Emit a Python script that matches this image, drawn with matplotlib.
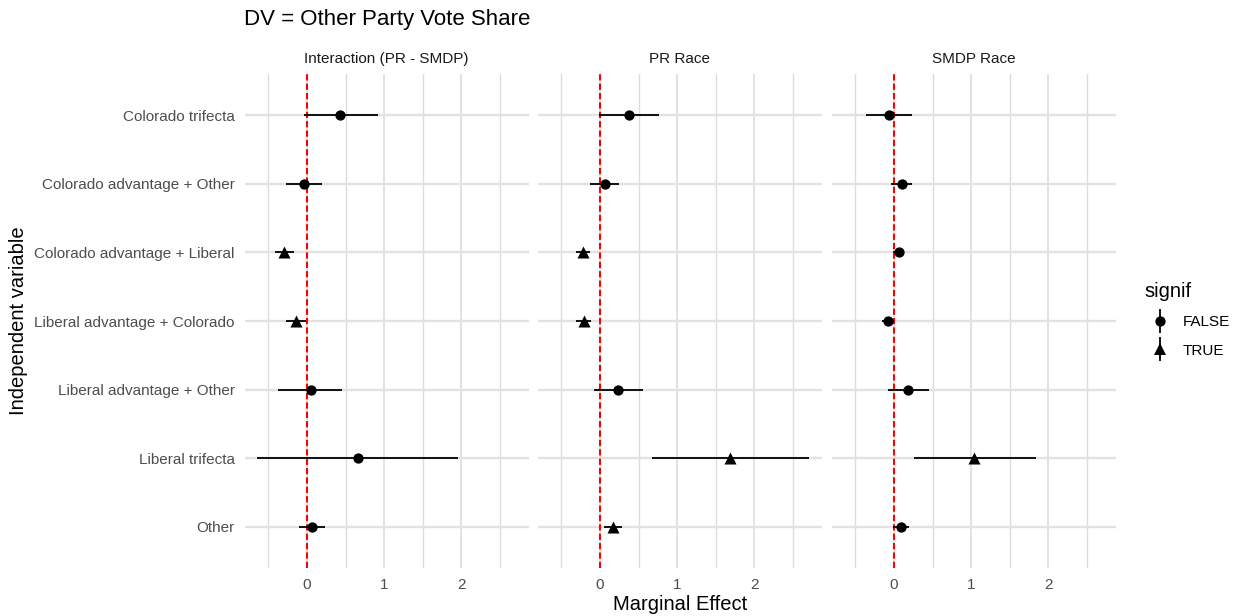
import numpy as np
import matplotlib
matplotlib.use("Agg")
import matplotlib.pyplot as plt
from matplotlib.lines import Line2D
from matplotlib.legend_handler import HandlerTuple

plt.rcParams['font.family'] = ['Liberation Sans', 'DejaVu Sans']

categories = ["Colorado trifecta", "Colorado advantage + Other",
              "Colorado advantage + Liberal", "Liberal advantage + Colorado",
              "Liberal advantage + Other", "Liberal trifecta", "Other"]
panel_titles = ["Interaction (PR - SMDP)", "PR Race", "SMDP Race"]

# interaction term
est_inter = [0.43, -0.04, -0.29, -0.14, 0.05, 0.66, 0.07]
lo_inter = [-0.04, -0.27, -0.41, -0.27, -0.37, -0.64, -0.10]
hi_inter = [0.92, 0.19, -0.17, -0.005, 0.46, 1.95, 0.24]
sig_inter = [False, False, True, True, False, False, False]

# PR race
est_pr = [0.38, 0.06, -0.22, -0.21, 0.24, 1.68, 0.17]
lo_pr = [-0.005, -0.13, -0.31, -0.31, -0.08, 0.68, 0.05]
hi_pr = [0.76, 0.25, -0.13, -0.11, 0.56, 2.70, 0.29]
sig_pr = [False, False, True, True, False, True, True]

# SMDP race
est_smdp = [-0.06, 0.10, 0.065, -0.08, 0.18, 1.03, 0.09]
lo_smdp = [-0.36, -0.04, -0.005, -0.16, -0.07, 0.26, -0.01]
hi_smdp = [0.24, 0.23, 0.125, 0.005, 0.45, 1.84, 0.19]
sig_smdp = [False, False, False, False, False, True, False]

panels = [(est_inter, lo_inter, hi_inter, sig_inter),
          (est_pr, lo_pr, hi_pr, sig_pr),
          (est_smdp, lo_smdp, hi_smdp, sig_smdp)]

W, H = 1240, 616
fig = plt.figure(figsize=(W / 100, H / 100), dpi=100)

# shared x range with 5% padding
all_lo = min(min(p[1]) for p in panels)
all_hi = max(max(p[2]) for p in panels)
pad = 0.05 * (all_hi - all_lo)
xlim = (all_lo - pad, all_hi + pad)

lefts = [244.5, 537.5, 831.5]
pw = 284
top, bottom = 74, 568
ypos = np.arange(len(categories))

axes = []
for i, (est, lo, hi, sig) in enumerate(panels):
    ax = fig.add_axes([lefts[i] / W, 1 - bottom / H, pw / W, (bottom - top) / H])
    axes.append(ax)
    ax.set_xlim(*xlim)
    ax.set_ylim(len(categories) - 0.4, -0.6)
    ax.set_xticks([0, 1, 2])
    ax.set_xticks([-0.5, 0.5, 1.5, 2.5], minor=True)
    ax.set_yticks(ypos)
    ax.grid(axis='x', which='major', color='#dadada', lw=1.1, zorder=0)
    ax.grid(axis='x', which='minor', color='#dcdcdc', lw=1.0, zorder=0)
    ax.grid(axis='y', which='major', color='#e2e2e2', lw=1.7, zorder=0)
    ax.set_axisbelow(True)
    for s in ax.spines.values():
        s.set_visible(False)
    ax.tick_params(which='both', length=0, labelsize=11, labelcolor='#4d4d4d')
    ax.tick_params(axis='x', pad=7)
    ax.tick_params(axis='y', pad=7)
    if i == 0:
        ax.set_yticklabels(categories)
    else:
        ax.set_yticklabels([])

    ax.axvline(0, color='red', lw=1.5, ls=(0, (3, 1.5)), zorder=2)
    ax.hlines(ypos, lo, hi, color='black', lw=1.3, zorder=3)
    est = np.array(est)
    sig = np.array(sig)
    ax.scatter(est[~sig], ypos[~sig], marker='o', s=55, color='black', zorder=4, linewidths=0)
    ax.scatter(est[sig], ypos[sig], marker='^', s=75, color='black', zorder=4, linewidths=0)

    ax.set_title(panel_titles[i], fontsize=11, color='#1a1a1a', pad=8)

fig.text(244 / W, 1 - 20 / H, "DV = Other Party Vote Share", fontsize=16, va='center', ha='left')
fig.text((244 + 1116) / 2 / W, 1 - 604 / H, "Marginal Effect", fontsize=14.5, ha='center', va='center')
fig.text(19 / W, 1 - 321 / H, "Independent variable", fontsize=14.5, rotation=90,
         ha='center', va='center')

# legend keys: vertical range line with the point glyph on top
vline = Line2D([], [], color='black', marker='|', markersize=17, markeredgewidth=1.3, linestyle='None')
dot = Line2D([], [], color='black', marker='o', markersize=7.4, markeredgewidth=0, linestyle='None')
tri = Line2D([], [], color='black', marker='^', markersize=8.7, markeredgewidth=0, linestyle='None')
fig.legend([(vline, dot), (vline, tri)], ["FALSE", "TRUE"], title="signif",
           loc='upper left', bbox_to_anchor=(1131 / W, 1 - 268 / H), frameon=False,
           handler_map={tuple: HandlerTuple(ndivide=1)}, handlelength=2.0,
           handletextpad=0.5, labelspacing=0.95, fontsize=11, title_fontsize=14.5,
           alignment='left')

fig.savefig("out.png", dpi=100, facecolor='white')
